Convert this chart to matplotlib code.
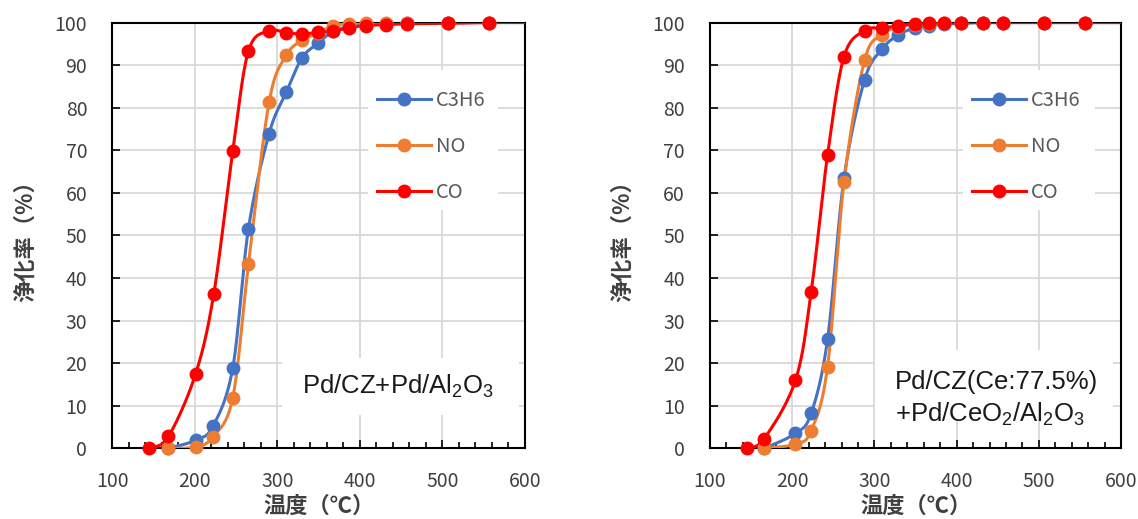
import matplotlib
matplotlib.use('Agg')
import matplotlib.pyplot as plt
import numpy as np
from matplotlib.lines import Line2D
from matplotlib.patches import Rectangle
from matplotlib.ticker import MultipleLocator

plt.rcParams['font.family'] = ['Noto Sans CJK JP', 'DejaVu Sans']
plt.rcParams['mathtext.fontset'] = 'custom'
plt.rcParams['mathtext.rm'] = 'Liberation Sans'
plt.rcParams['mathtext.default'] = 'rm'

# --- left panel: Pd/CZ+Pd/Al2O3 ---
t1_co = [145, 168, 201, 223, 246, 265, 290, 311, 330, 349, 368, 387, 407, 432, 457, 507, 557, 610]
co1 = [0, 2.8, 17.5, 36.3, 69.8, 93.3, 98.0, 97.6, 97.3, 97.7, 97.9, 98.8, 99.3, 99.5, 99.7, 99.8, 100, 100]
t1 = [168, 201, 222, 246, 265, 290, 311, 330, 349, 368, 387, 407, 432, 457, 507, 557, 610]
c3h6_1 = [0, 1.9, 5.2, 18.9, 51.6, 73.9, 83.7, 91.7, 95.1, 98.0, 99.0, 99.5, 99.7, 100, 100, 100, 100]
no1 = [0, 0.3, 2.7, 11.9, 43.2, 81.3, 92.3, 95.8, 97.5, 99.3, 99.7, 100, 100, 100, 100, 100, 100]

# --- right panel: Pd/CZ(Ce:77.5%)+Pd/CeO2/Al2O3 ---
t2_co = [145, 166, 204, 223, 243, 263, 288, 309, 329, 349, 367, 385, 405, 432, 456, 506, 556, 610]
co2 = [0, 2.3, 16.0, 36.6, 68.9, 92.0, 98.1, 98.7, 99.2, 99.7, 99.8, 99.9, 100, 100, 100, 100, 100, 100]
t2 = [166, 204, 223, 243, 263, 288, 309, 329, 349, 367, 385, 405, 432, 456, 506, 556, 610]
c3h6_2 = [0, 3.5, 8.2, 25.6, 63.4, 86.5, 93.7, 97.1, 98.7, 99.3, 99.6, 99.8, 100, 100, 100, 100, 100]
no2 = [0, 1.0, 4.1, 19.2, 62.6, 91.1, 97.1, 99.0, 99.5, 99.7, 100, 100, 100, 100, 100, 100, 100]

names = ['C3H6', 'NO', 'CO']
colors = ['#4472C4', '#ED7D31', '#FF0000']


def smooth(x, y, n=30):
    # excel-like smoothed line (cubic bezier through the points)
    p = np.column_stack([x, y]).astype(float)
    pe = np.vstack([p[0], p, p[-1]])
    out = []
    for i in range(len(p) - 1):
        p0, p1, p2, p3 = pe[i], pe[i + 1], pe[i + 2], pe[i + 3]
        c1 = p1 + (p2 - p0) / 6
        c2 = p2 - (p3 - p1) / 6
        s = np.linspace(0, 1, n)[:, None]
        seg = (1 - s)**3 * p1 + 3 * (1 - s)**2 * s * c1 + 3 * (1 - s) * s**2 * c2 + s**3 * p2
        out.append(seg if i == 0 else seg[1:])
    a = np.vstack(out)
    return a[:, 0], a[:, 1]


def panel(ax, series, leg_box, txt_box):
    ax.set_xlim(100, 600)
    ax.set_ylim(0, 100)
    ax.xaxis.set_major_locator(MultipleLocator(100))
    ax.xaxis.set_minor_locator(MultipleLocator(20))
    ax.yaxis.set_major_locator(MultipleLocator(10))
    ax.grid(True, which='major', color='#D9D9D9', lw=1.3)
    ax.set_axisbelow(True)
    for s in ax.spines.values():
        s.set_linewidth(1.5)
        s.set_color('black')
    ax.tick_params(axis='both', which='both', direction='in', width=1.2,
                   labelsize=14, labelcolor='#404040', top=False, right=False)
    ax.tick_params(axis='x', which='major', length=6, pad=16)
    ax.tick_params(axis='x', which='minor', length=4.5)
    ax.tick_params(axis='y', which='major', length=6, pad=18)

    for (x, y), c in zip(series, colors):
        sx, sy = smooth(x, y)
        ax.plot(sx, sy, color=c, lw=2.2, zorder=3)
        x = np.array(x)
        y = np.array(y)
        vis = x <= 600
        ax.plot(x[vis], y[vis], 'o', color=c, ms=9, zorder=3.5, clip_on=False)

    for b in (leg_box, txt_box):
        ax.add_patch(Rectangle((b[0], b[1]), b[2] - b[0], b[3] - b[1], transform=ax.transAxes,
                               facecolor='white', edgecolor='none', zorder=1.8))

    handles = [Line2D([], [], color=c, lw=2.2, marker='o', ms=9) for c in colors]
    leg = ax.legend(handles, names, loc='center left', bbox_to_anchor=(leg_box[0] + 0.022, 0.709),
                    frameon=False, fontsize=14.5, handlelength=2.65, handletextpad=0.26,
                    labelspacing=1.24, borderpad=0, borderaxespad=0)
    for t in leg.get_texts():
        t.set_color('#595959')

    ax.set_xlabel('温度（℃）', fontsize=16, color='#404040', fontweight='bold', labelpad=2)
    ax.set_ylabel('浄化率（%）', fontsize=16, color='#404040', fontweight='bold', labelpad=13)


fig = plt.figure(figsize=(11.38, 5.19), dpi=100)
ax1 = fig.add_axes([0.0987, 0.1362, 0.3625, 0.8204])
ax2 = fig.add_axes([0.6239, 0.1362, 0.3612, 0.8204])

panel(ax1, [(t1, c3h6_1), (t1, no1), (t1_co, co1)],
      (0.62, 0.56, 0.935, 0.888), (0.411, 0.078, 0.986, 0.212))
panel(ax2, [(t2, c3h6_2), (t2, no2), (t2_co, co2)],
      (0.616, 0.56, 0.937, 0.888), (0.401, 0.066, 0.981, 0.231))

tf = dict(fontsize=18.5, family='Liberation Sans', color='#1a1a1a', zorder=4)
ax1.text(0.459, 0.1275, r'Pd/CZ+Pd/Al$_2$O$_3$', transform=ax1.transAxes, ha='left', va='baseline', **tf)
ax2.text(0.450, 0.1386, 'Pd/CZ(Ce:77.5%)', transform=ax2.transAxes, ha='left', va='baseline', **tf)
ax2.text(0.450, 0.0625, r'+Pd/CeO$_2$/Al$_2$O$_3$', transform=ax2.transAxes, ha='left', va='baseline', **tf)

fig.savefig('out.png', dpi=100)
